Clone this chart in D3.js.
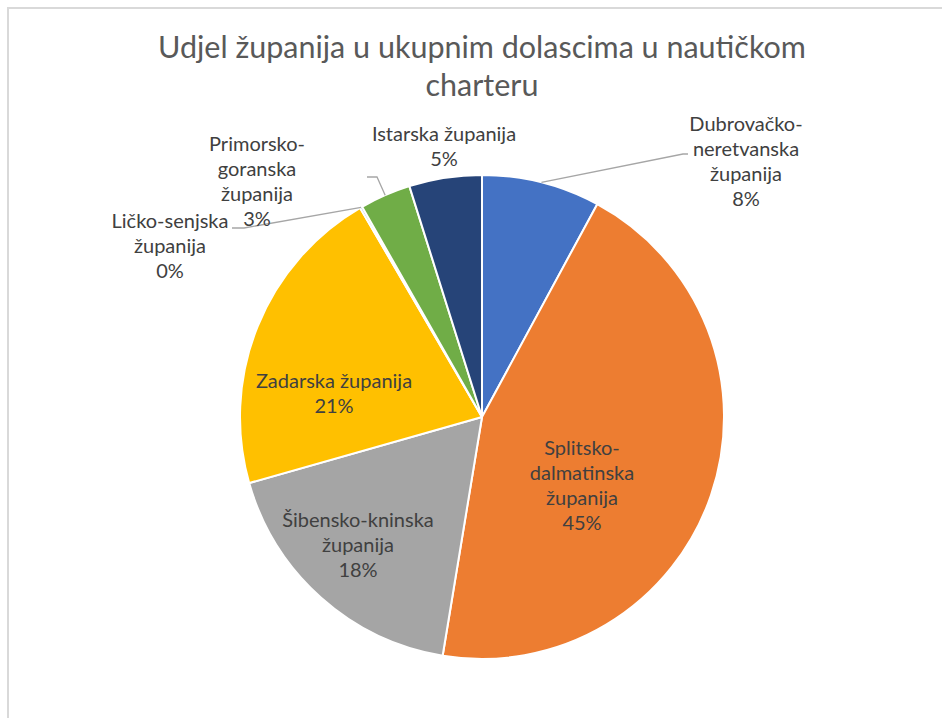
<!DOCTYPE html>
<html>
<head>
<meta charset="utf-8">
<script src="https://cdn.jsdelivr.net/npm/d3@7"></script>
<style>
  body { margin: 0; background: #ffffff; }
  svg { display: block; }
</style>
</head>
<body>
<div class="chart"></div>
<script>
// data - share of arrivals in nautical charter per county
var counties = ["Dubrovačko-neretvanska županija", "Splitsko-dalmatinska županija",
                "Šibensko-kninska županija", "Zadarska županija",
                "Ličko-senjska županija", "Primorsko-goranska županija",
                "Istarska županija"];
var shares = [7.9, 44.7, 18.0, 21.0, 0.15, 3.4, 4.85];
var labelLines = [
  ["Dubrovačko-", "neretvanska", "županija"],
  ["Splitsko-", "dalmatinska", "županija"],
  ["Šibensko-kninska", "županija"],
  ["Zadarska županija"],
  ["Ličko-senjska", "županija"],
  ["Primorsko-", "goranska", "županija"],
  ["Istarska županija"]
];
var titleLines = ["Udjel županija u ukupnim dolascima u nautičkom", "charteru"];

var colors = ["#4472C4", "#ED7D31", "#A5A5A5", "#FFC000", "#5B9BD5", "#70AD47", "#264478"];

// label layout: centre x, first baseline y, optional leader line end points
var labelLayout = [
  { x: 746, y: 131, leader: [[683, 154], [688, 154]] },
  { x: 582, y: 455 },
  { x: 358, y: 527 },
  { x: 334, y: 388 },
  { x: 170, y: 228, leader: [[244, 228], [232, 228]] },
  { x: 257, y: 151, leader: [[377, 177], [367, 177]] },
  { x: 444, y: 141 }
];

var width = 942;
var height = 718;
var cx = 482, cy = 417, radius = 242;
var lineHeight = 25;

var svg = d3.select(".chart").append("svg")
  .attr("width", width)
  .attr("height", height);

// outer chart frame (only top/left edges are visible)
svg.append("path")
  .attr("d", "M8," + height + "V8H" + width)
  .attr("fill", "none")
  .attr("stroke", "#d9d9d9")
  .attr("stroke-width", 2);

// title
svg.append("text")
  .attr("x", 482)
  .attr("y", 58)
  .attr("text-anchor", "middle")
  .attr("font-family", "Lato, 'Open Sans', sans-serif")
  .attr("font-size", 30.5)
  .attr("fill", "#595959")
  .selectAll("tspan")
  .data(titleLines)
  .enter().append("tspan")
  .attr("x", 482)
  .attr("dy", function(d, i) { return i === 0 ? 0 : 38; })
  .text(function(d) { return d; });

var pie = d3.pie().sort(null).value(function(d) { return d; });
var arcs = pie(shares);
var total = d3.sum(shares);
var pct = d3.format(".0%");

var arc = d3.arc().innerRadius(0).outerRadius(radius);

var g = svg.append("g")
  .attr("transform", "translate(" + cx + "," + cy + ")");

g.selectAll("path.slice")
  .data(arcs)
  .enter().append("path")
  .attr("class", "slice")
  .attr("d", arc)
  .attr("fill", function(d, i) { return colors[i]; })
  .attr("stroke", "#ffffff")
  .attr("stroke-width", 2)
  .attr("stroke-linejoin", "round");

// leader lines from the arc edge to the outside labels
g.selectAll("polyline.leader")
  .data(arcs.filter(function(d, i) { return labelLayout[i].leader; }))
  .enter().append("polyline")
  .attr("class", "leader")
  .attr("fill", "none")
  .attr("stroke", "#a6a6a6")
  .attr("stroke-width", 1.3)
  .attr("points", function(d) {
    var mid = (d.startAngle + d.endAngle) / 2;
    var p0 = [radius * Math.sin(mid), -radius * Math.cos(mid)];
    var pts = [p0].concat(labelLayout[d.index].leader.map(function(p) {
      return [p[0] - cx, p[1] - cy];
    }));
    return pts.map(function(p) { return p.join(","); }).join(" ");
  });

// data labels
var labels = svg.append("g")
  .selectAll("text")
  .data(arcs)
  .enter().append("text")
  .attr("text-anchor", "middle")
  .attr("font-family", "Lato, 'Open Sans', sans-serif")
  .attr("font-size", 20)
  .attr("fill", "#404040");

labels.each(function(d, i) {
  var lines = labelLines[i].concat([pct(d.data / total)]);
  d3.select(this).selectAll("tspan")
    .data(lines)
    .enter().append("tspan")
    .attr("x", labelLayout[i].x)
    .attr("y", function(t, j) { return labelLayout[i].y + j * lineHeight; })
    .text(function(t) { return t; });
});
</script>
</body>
</html>
